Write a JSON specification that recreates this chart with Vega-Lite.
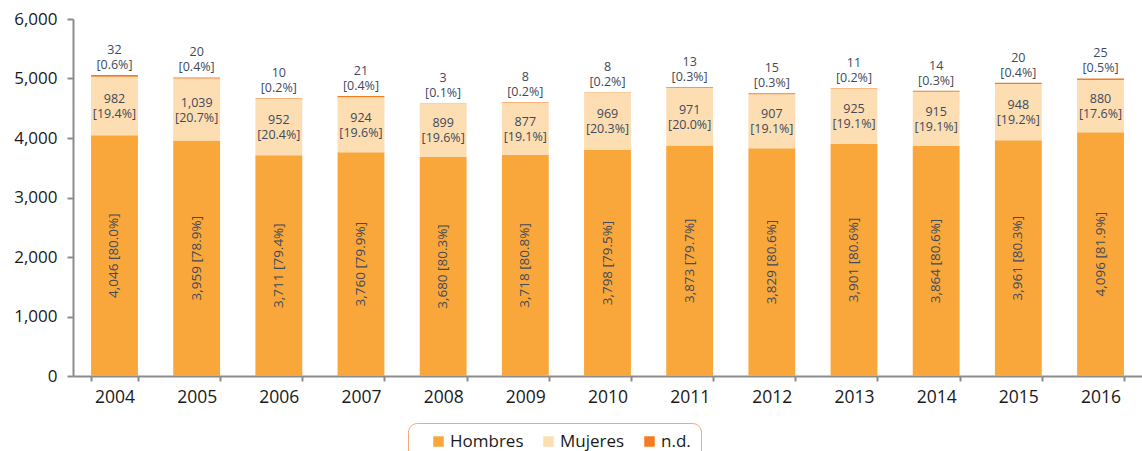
{
  "$schema": "https://vega.github.io/schema/vega-lite/v6.json",
  "width": 1069,
  "height": 357,
  "autosize": {"type": "none"},
  "padding": {"left": 73, "top": 19, "right": 0, "bottom": 75},
  "background": "white",
  "config": {
    "view": {"stroke": null},
    "font": "Open Sans",
    "axis": {"domainColor": "#8c8c8c", "domainWidth": 2, "tickColor": "#8c8c8c", "tickWidth": 2, "grid": false, "labelFont": "Open Sans", "labelColor": "#1a1a1a", "title": null}
  },
  "data": {
    "values": [
      {"year": "2004", "sexo": "Hombres", "orden": 1, "valor": 4046, "pct": 80.0},
      {"year": "2004", "sexo": "Mujeres", "orden": 2, "valor": 982, "pct": 19.4},
      {"year": "2004", "sexo": "n.d.", "orden": 3, "valor": 32, "pct": 0.6},
      {"year": "2005", "sexo": "Hombres", "orden": 1, "valor": 3959, "pct": 78.9},
      {"year": "2005", "sexo": "Mujeres", "orden": 2, "valor": 1039, "pct": 20.7},
      {"year": "2005", "sexo": "n.d.", "orden": 3, "valor": 20, "pct": 0.4},
      {"year": "2006", "sexo": "Hombres", "orden": 1, "valor": 3711, "pct": 79.4},
      {"year": "2006", "sexo": "Mujeres", "orden": 2, "valor": 952, "pct": 20.4},
      {"year": "2006", "sexo": "n.d.", "orden": 3, "valor": 10, "pct": 0.2},
      {"year": "2007", "sexo": "Hombres", "orden": 1, "valor": 3760, "pct": 79.9},
      {"year": "2007", "sexo": "Mujeres", "orden": 2, "valor": 924, "pct": 19.6},
      {"year": "2007", "sexo": "n.d.", "orden": 3, "valor": 21, "pct": 0.4},
      {"year": "2008", "sexo": "Hombres", "orden": 1, "valor": 3680, "pct": 80.3},
      {"year": "2008", "sexo": "Mujeres", "orden": 2, "valor": 899, "pct": 19.6},
      {"year": "2008", "sexo": "n.d.", "orden": 3, "valor": 3, "pct": 0.1},
      {"year": "2009", "sexo": "Hombres", "orden": 1, "valor": 3718, "pct": 80.8},
      {"year": "2009", "sexo": "Mujeres", "orden": 2, "valor": 877, "pct": 19.1},
      {"year": "2009", "sexo": "n.d.", "orden": 3, "valor": 8, "pct": 0.2},
      {"year": "2010", "sexo": "Hombres", "orden": 1, "valor": 3798, "pct": 79.5},
      {"year": "2010", "sexo": "Mujeres", "orden": 2, "valor": 969, "pct": 20.3},
      {"year": "2010", "sexo": "n.d.", "orden": 3, "valor": 8, "pct": 0.2},
      {"year": "2011", "sexo": "Hombres", "orden": 1, "valor": 3873, "pct": 79.7},
      {"year": "2011", "sexo": "Mujeres", "orden": 2, "valor": 971, "pct": 20.0},
      {"year": "2011", "sexo": "n.d.", "orden": 3, "valor": 13, "pct": 0.3},
      {"year": "2012", "sexo": "Hombres", "orden": 1, "valor": 3829, "pct": 80.6},
      {"year": "2012", "sexo": "Mujeres", "orden": 2, "valor": 907, "pct": 19.1},
      {"year": "2012", "sexo": "n.d.", "orden": 3, "valor": 15, "pct": 0.3},
      {"year": "2013", "sexo": "Hombres", "orden": 1, "valor": 3901, "pct": 80.6},
      {"year": "2013", "sexo": "Mujeres", "orden": 2, "valor": 925, "pct": 19.1},
      {"year": "2013", "sexo": "n.d.", "orden": 3, "valor": 11, "pct": 0.2},
      {"year": "2014", "sexo": "Hombres", "orden": 1, "valor": 3864, "pct": 80.6},
      {"year": "2014", "sexo": "Mujeres", "orden": 2, "valor": 915, "pct": 19.1},
      {"year": "2014", "sexo": "n.d.", "orden": 3, "valor": 14, "pct": 0.3},
      {"year": "2015", "sexo": "Hombres", "orden": 1, "valor": 3961, "pct": 80.3},
      {"year": "2015", "sexo": "Mujeres", "orden": 2, "valor": 948, "pct": 19.2},
      {"year": "2015", "sexo": "n.d.", "orden": 3, "valor": 20, "pct": 0.4},
      {"year": "2016", "sexo": "Hombres", "orden": 1, "valor": 4096, "pct": 81.9},
      {"year": "2016", "sexo": "Mujeres", "orden": 2, "valor": 880, "pct": 17.6},
      {"year": "2016", "sexo": "n.d.", "orden": 3, "valor": 25, "pct": 0.5}
    ]
  },
  "transform": [
    {"stack": "valor", "groupby": ["year"], "sort": [{"field": "orden"}], "as": ["y0", "y1"]},
    {"calculate": "(datum.y0 + datum.y1) / 2", "as": "mid"},
    {"calculate": "format(datum.valor, ',')", "as": "l1"},
    {"calculate": "'[' + format(datum.pct, '.1f') + '%]'", "as": "l2"},
    {"calculate": "datum.l1 + ' ' + datum.l2", "as": "hl"},
    {"calculate": "[datum.l1, datum.l2]", "as": "lines"}
  ],
  "encoding": {
    "x": {
      "field": "year", "type": "ordinal",
      "scale": {"paddingInner": 0.43, "paddingOuter": 0.22},
      "axis": {"labelAngle": 0, "labelFontSize": 17.5, "labelPadding": 7, "tickBand": "extent", "tickSize": 5}
    }
  },
  "layer": [
    {
      "mark": {"type": "bar"},
      "encoding": {
        "y": {
          "field": "y0", "type": "quantitative",
          "scale": {"domain": [0, 6000], "nice": false},
          "axis": {"values": [0, 1000, 2000, 3000, 4000, 5000, 6000], "format": ",.0f", "labelFontSize": 17, "labelPadding": 10, "tickSize": 6}
        },
        "y2": {"field": "y1"},
        "color": {
          "field": "sexo", "type": "nominal",
          "scale": {"domain": ["Hombres", "Mujeres", "n.d."], "range": ["#F9A63A", "#FDDDB2", "#F47C20"]},
          "legend": {
            "title": null, "orient": "none", "legendX": 335, "legendY": 404,
            "direction": "horizontal", "columns": 3, "gridAlign": "none",
            "symbolType": "square", "symbolSize": 110, "symbolStrokeWidth": 0,
            "labelFontSize": 17, "labelFont": "Open Sans", "labelColor": "#1a1a1a", "labelOffset": 3,
            "columnPadding": 4, "padding": 10, "symbolOffset": 12,
            "strokeColor": "#F5A874", "cornerRadius": 9, "fillColor": "white"
          }
        },
        "order": {"field": "orden"}
      }
    },
    {
      "transform": [{"filter": "datum.sexo == 'Hombres'"}],
      "mark": {"type": "text", "angle": 270, "fontSize": 13.5, "color": "#414a5b", "font": "Open Sans"},
      "encoding": {
        "y": {"field": "mid", "type": "quantitative"},
        "text": {"field": "hl", "type": "nominal"}
      }
    },
    {
      "transform": [{"filter": "datum.sexo == 'Mujeres'"}],
      "mark": {"type": "text", "fontSize": 12.5, "color": "#414a5b", "font": "Open Sans", "lineHeight": 15, "baseline": "middle", "dy": -7},
      "encoding": {
        "y": {"field": "mid", "type": "quantitative"},
        "text": {"field": "lines", "type": "nominal"}
      }
    },
    {
      "transform": [{"filter": "datum.sexo == 'n.d.'"}],
      "mark": {"type": "text", "fontSize": 12.5, "color": "#414a5b", "font": "Open Sans", "lineHeight": 15, "baseline": "bottom", "dy": -18},
      "encoding": {
        "y": {"field": "y1", "type": "quantitative"},
        "text": {"field": "lines", "type": "nominal"}
      }
    }
  ]
}
